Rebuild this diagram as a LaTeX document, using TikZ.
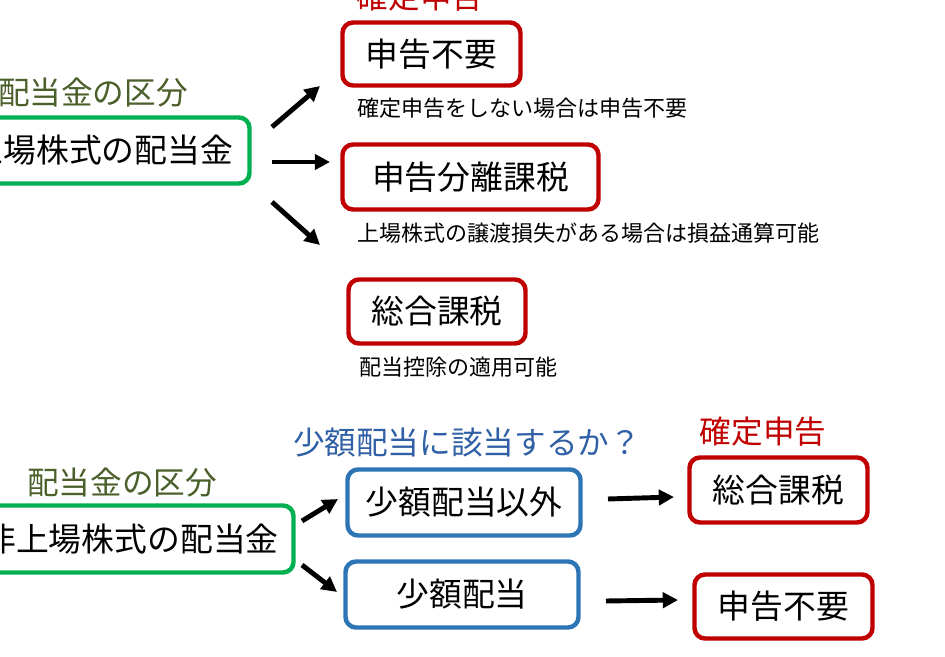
\documentclass[tikz,border=0pt]{standalone}
\usepackage{fontspec}
\setmainfont{Noto Sans CJK JP}
\usetikzlibrary{arrows.meta}
\definecolor{kred}{HTML}{C00000}
\definecolor{kgreen}{HTML}{00B050}
\definecolor{kblue}{HTML}{2E75B6}
\definecolor{kolive}{HTML}{4A5F2A}
\definecolor{kbluetxt}{HTML}{2F5FA5}
\newcommand\px{0.03cm}
\tikzset{
  kbox/.style={draw, rounded corners=9pt, line width=3.8pt, fill=white,
    inner sep=0pt, font=\fontsize{28}{31}\selectfont},
  redbox/.style={kbox, draw=kred},
  greenbox/.style={kbox, draw=kgreen},
  bluebox/.style={kbox, draw=kblue},
  boxsize/.style 2 args={minimum width=#1*\px, minimum height=#2*\px},
  headtxt/.style={inner sep=0pt, font=\fontsize{27}{30}\selectfont},
  notetxt/.style={anchor=west, inner sep=0pt, font=\fontsize{18.8}{22}\selectfont},
  fatarrow/.style={line width=4.2pt, -{Triangle[length=13pt,width=13pt]}}
}
\begin{document}
\begin{tikzpicture}[x=\px, y=-\px]
  \useasboundingbox (0,0) rectangle (945,657);
  \clip (0,0) rectangle (945,657);

  %%%%% upper part %%%%%
  \node[headtxt, text=kred] (topfix) at (420,-3) {確定申告};
  \node[headtxt, text=kolive] (topkind) at (93,93) {配当金の区分};

  \node[greenbox, boxsize={295}{66}] (listed) at (102,150.5) {上場株式の配当金};

  \node[redbox, boxsize={178}{63}] (nofile) at (431.5,54) {申告不要};
  \node[redbox, boxsize={256}{65}] (separate) at (470.5,177) {申告分離課税};
  \node[redbox, boxsize={177}{64}] (general) at (437,311.5) {総合課税};

  \node[notetxt] (nofilenote) at (357,108) {確定申告をしない場合は申告不要};
  \node[notetxt] (separatenote) at (357,233) {上場株式の譲渡損失がある場合は損益通算可能};
  \node[notetxt] (generalnote) at (359,367) {配当控除の適用可能};

  \coordinate (a1s) at (272,127);
  \coordinate (a1e) at (320,86);
  \coordinate (a2s) at (272,162);
  \coordinate (a2e) at (330,162);
  \coordinate (a3s) at (272,202);
  \coordinate (a3e) at (320,245);
  \draw[fatarrow] (a1s) -- (a1e);
  \draw[fatarrow] (a2s) -- (a2e);
  \draw[fatarrow] (a3s) -- (a3e);

  %%%%% lower part %%%%%
  \node[headtxt, text=kbluetxt] (question) at (467,443) {少額配当に該当するか？};
  \node[headtxt, text=kred] (lowfix) at (763,432) {確定申告};
  \node[headtxt, text=kolive] (lowkind) at (122,483) {配当金の区分};

  \node[greenbox, boxsize={325}{67}] (unlisted) at (131,539) {非上場株式の配当金};

  \node[bluebox, boxsize={233}{66}] (notsmall) at (464,502.5) {少額配当以外};
  \node[bluebox, boxsize={233}{66}] (small) at (462,594.5) {少額配当};

  \node[redbox, boxsize={178}{65}] (lowgeneral) at (778.5,490) {総合課税};
  \node[redbox, boxsize={178}{64}] (lownofile) at (783.5,606.5) {申告不要};

  \coordinate (b1s) at (302,521);
  \coordinate (b1e) at (338,499);
  \coordinate (b2s) at (302,565);
  \coordinate (b2e) at (337,592);
  \coordinate (b3s) at (608,499);
  \coordinate (b3e) at (674,497);
  \coordinate (b4s) at (606,601);
  \coordinate (b4e) at (678,600);
  \draw[fatarrow] (b1s) -- (b1e);
  \draw[fatarrow] (b2s) -- (b2e);
  \draw[fatarrow] (b3s) -- (b3e);
  \draw[fatarrow] (b4s) -- (b4e);
\end{tikzpicture}
\end{document}
